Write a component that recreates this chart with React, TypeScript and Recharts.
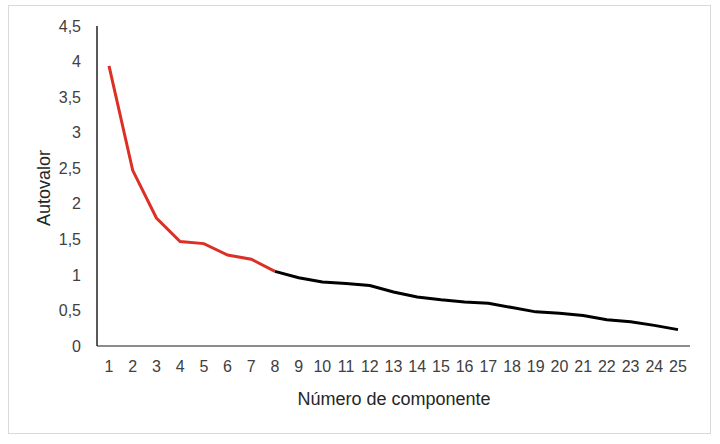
import { LineChart, Line, XAxis, YAxis } from "recharts";

// número de componente 1..25
const components = [
  "1", "2", "3", "4", "5", "6", "7", "8", "9", "10", "11", "12", "13",
  "14", "15", "16", "17", "18", "19", "20", "21", "22", "23", "24", "25",
];

// autovalores
const eigenvalues = [
  3.94, 2.47, 1.8, 1.47, 1.44, 1.28, 1.22, 1.05, 0.96, 0.9, 0.88, 0.85, 0.76,
  0.69, 0.65, 0.62, 0.6, 0.54, 0.48, 0.46, 0.43, 0.37, 0.34, 0.29, 0.23,
];

// los primeros 8 componentes van en rojo
const retained = 8;

const yTicks = [0, 0.5, 1, 1.5, 2, 2.5, 3, 3.5, 4, 4.5];

const data = components.map((c, i) => ({
  comp: c,
  red: i < retained ? eigenvalues[i] : null,
  black: i >= retained - 1 ? eigenvalues[i] : null,
}));

const font = "'Liberation Sans', Arial, sans-serif";
const tickStyle = { fontSize: 16, fill: "#404040", fontFamily: font };

export default function App() {
  return (
    <div style={{ position: "absolute", left: 0, top: 0, width: 720, height: 444, background: "#fff" }}>
      <div
        style={{
          position: "absolute",
          left: 8,
          top: 5,
          width: 703,
          height: 429,
          border: "1px solid #d9d9d9",
          boxSizing: "border-box",
        }}
      />
      <div style={{ position: "absolute", left: 0, top: 0 }}>
        <LineChart width={720} height={444} data={data} margin={{ top: 26, right: 30, bottom: 0, left: 0 }}>
          <XAxis
            dataKey="comp"
            type="category"
            padding={{ left: 12, right: 12 }}
            height={98}
            tickLine={false}
            tickSize={0}
            tickMargin={15}
            interval={0}
            tick={tickStyle}
            axisLine={{ stroke: "#666", strokeWidth: 1.5 }}
            label={{
              content: () => (
                <text x={394} y={405} textAnchor="middle" fontSize={18} fill="#262626" fontFamily={font}>
                  Número de componente
                </text>
              ),
            }}
          />
          <YAxis
            width={97}
            domain={[0, 4.5]}
            ticks={yTicks}
            interval={0}
            tickLine={false}
            tickSize={0}
            tickMargin={16}
            tick={tickStyle}
            tickFormatter={(v: number) => String(v).replace(".", ",")}
            axisLine={{ stroke: "#222", strokeWidth: 1.5 }}
            label={{
              content: () => (
                <text
                  x={50}
                  y={188}
                  textAnchor="middle"
                  fontSize={18}
                  fill="#262626"
                  fontFamily={font}
                  transform="rotate(-90 50 188)"
                >
                  Autovalor
                </text>
              ),
            }}
          />
          <Line
            dataKey="red"
            stroke="#dc3027"
            strokeWidth={3}
            dot={false}
            activeDot={false}
            connectNulls={false}
            isAnimationActive={false}
          />
          <Line
            dataKey="black"
            stroke="#000"
            strokeWidth={3}
            dot={false}
            activeDot={false}
            connectNulls={false}
            isAnimationActive={false}
          />
        </LineChart>
      </div>
    </div>
  );
}
